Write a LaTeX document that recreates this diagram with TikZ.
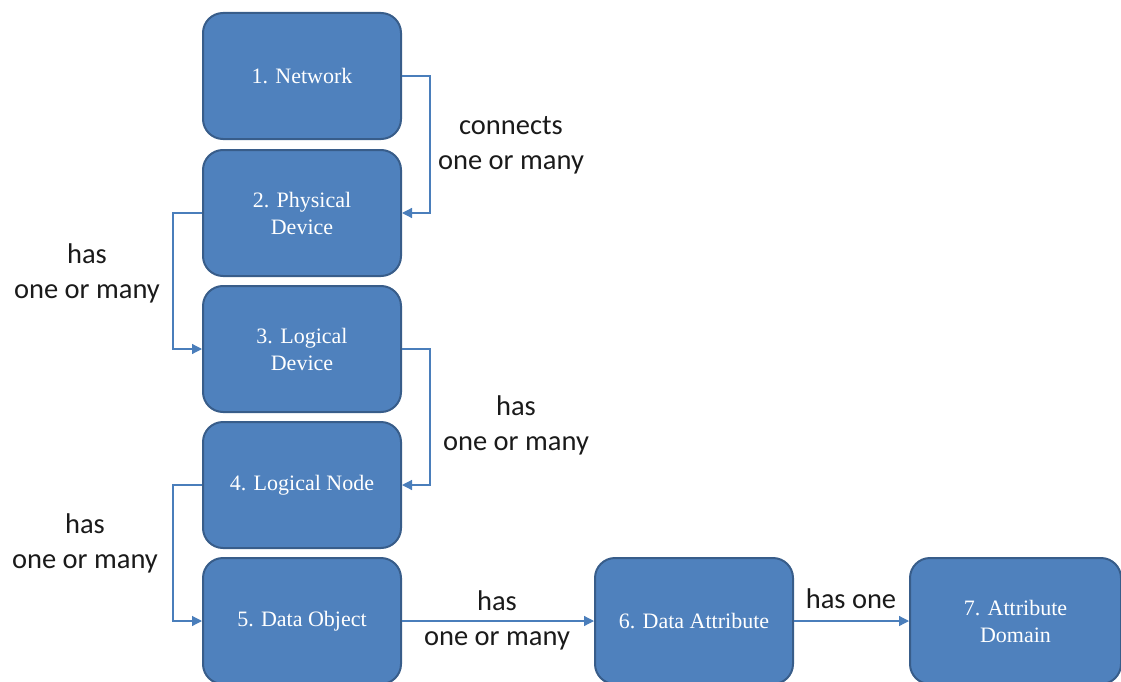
\documentclass[tikz,border=0pt]{standalone}
\usepackage{fontspec}
\setmainfont{Liberation Serif}
\newfontfamily\labelfont{Carlito}
\usetikzlibrary{arrows.meta}
\definecolor{boxfill}{HTML}{4F81BD}
\definecolor{boxline}{HTML}{385D8A}
\definecolor{linkcol}{HTML}{4A7EBB}
\definecolor{tagtext}{HTML}{1A1A1A}

\begin{document}
\begin{tikzpicture}[x=1pt,y=-1pt,
  block/.style={draw=boxline, line width=2pt, fill=boxfill, rounded corners=20pt,
    minimum width=198pt, minimum height=126pt, inner sep=0pt, align=center,
    text=white, font=\fontsize{22}{27}\selectfont},
  link/.style={draw=linkcol, line width=1.2pt, -{Triangle[length=10pt,width=10pt]}},
  tag/.style={align=center, inner sep=0pt, text=tagtext,
    font=\labelfont\fontsize{28.5}{35}\selectfont}]
\useasboundingbox (0,0) rectangle (1121,682);
\clip (0,0) rectangle (1121,682);

% model hierarchy
\node[block] (net)  at (302,76)  {1. Network};
\node[block] (pd)   at (302,213) {2. Physical\\Device};
\node[block] (ld)   at (302,349) {3. Logical\\Device};
\node[block] (ln)   at (302,485) {4. Logical Node};
\node[block] (do)   at (302,621) {5. Data Object};
\node[block] (da)   at (694,621) {6. Data Attribute};
\node[block, minimum width=211pt] (dom) at (1015.5,621) {7. Attribute\\Domain};

% relations
\draw[link] (net.east) -- ++(28,0) |- (pd.east);
\draw[link] (pd.west) -- ++(-29,0) |- (ld.west);
\draw[link] (ld.east) -- ++(28,0) |- (ln.east);
\draw[link] (ln.west) -- ++(-29,0) |- (do.west);
\draw[link] (do.east) -- (da.west);
\draw[link] (da.east) -- (dom.west);

% relation labels
\node[tag] (t1) at (511,145) {connects\\one or many};
\node[tag] (t2) at (87,273)  {has\\one or many};
\node[tag] (t3) at (516,425) {has\\one or many};
\node[tag] (t4) at (85,543)  {has\\one or many};
\node[tag] (t5) at (497,620) {has\\one or many};
\node[tag, anchor=base] (t6) at (851,608.6) {has one};
\end{tikzpicture}
\end{document}
